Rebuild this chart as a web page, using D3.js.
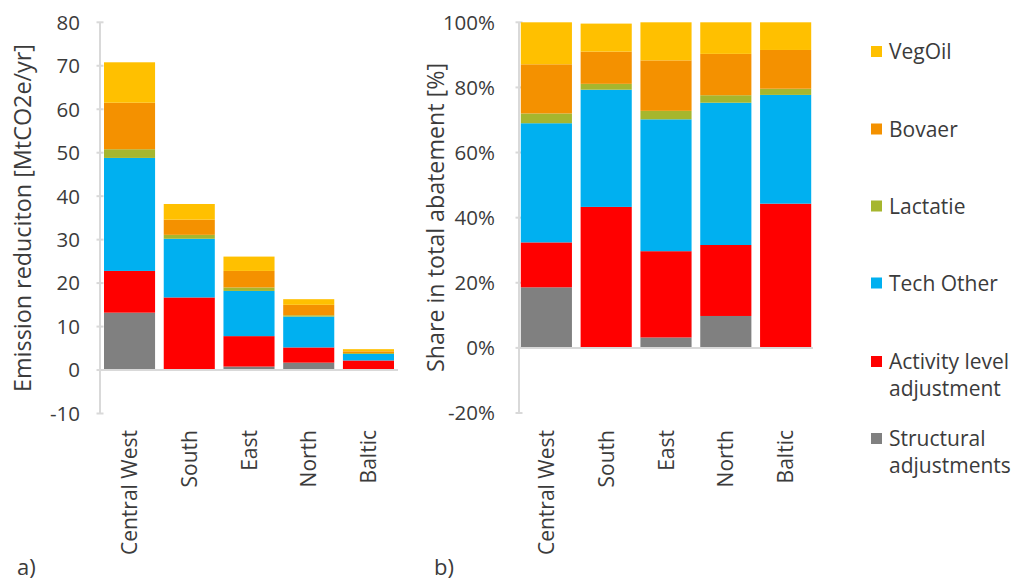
<!DOCTYPE html>
<html>
<head>
<meta charset="utf-8">
<script src="https://cdn.jsdelivr.net/npm/d3@7"></script>
<style>
  html, body { margin: 0; padding: 0; background: #fff; }
  svg { display: block; }
  text { font-family: "Open Sans", sans-serif; fill: #3b3b3b; }
</style>
</head>
<body>
<svg id="chart" width="1015" height="583"></svg>
<script>
// ---- Data ----
const categories = ["Central West", "South", "East", "North", "Baltic"];
const seriesNames = ["Structural adjustments", "Activity level adjustment", "Tech Other", "Lactatie", "Bovaer", "VegOil"];
const seriesColors = ["#808080", "#FF0000", "#00B0F0", "#A6B62E", "#F49100", "#FFC000"];

// Panel a) emission reduction, MtCO2e/yr
const structuralAbs = [13.2, 0.0, 0.8, 1.7, 0.0];
const activityAbs   = [9.6, 16.7, 7.0, 3.5, 2.2];
const techOtherAbs  = [26.0, 13.5, 10.4, 7.1, 1.5];
const lactatieAbs   = [2.0, 0.9, 0.8, 0.3, 0.2];
const bovaerAbs     = [10.7, 3.5, 3.8, 2.4, 0.4];
const vegOilAbs     = [9.3, 3.6, 3.3, 1.3, 0.5];

// Panel b) share in total abatement, %
const structuralPct = [18.6, 0.0, 3.2, 9.8, 0.0];
const activityPct   = [13.8, 43.3, 26.5, 21.8, 44.3];
const techOtherPct  = [36.6, 36.0, 40.5, 43.7, 33.4];
const lactatiePct   = [3.0, 1.8, 2.6, 2.3, 1.9];
const bovaerPct     = [15.1, 9.9, 15.5, 12.7, 11.9];
const vegOilPct     = [12.9, 8.6, 11.7, 9.7, 8.5];

const leftTicks  = [-10, 0, 10, 20, 30, 40, 50, 60, 70, 80];
const rightTicks = [-20, 0, 20, 40, 60, 80, 100];

const legendLabels = [
  ["VegOil"], ["Bovaer"], ["Lactatie"], ["Tech Other"],
  ["Activity level", "adjustment"], ["Structural", "adjustments"]
];
const legendColors = ["#FFC000", "#F49100", "#A6B62E", "#00B0F0", "#FF0000", "#808080"];

// ---- Drawing ----
const svg = d3.select("#chart");
const axisColor = "#d9d9d9";

function buildStack(arrays) {
  const rows = categories.map((c, i) => {
    const r = { cat: c };
    seriesNames.forEach((s, k) => { r[s] = arrays[k][i]; });
    return r;
  });
  return d3.stack().keys(seriesNames)(rows);
}

function panel(opts) {
  const g = svg.append("g");
  const x = d3.scaleBand().domain(categories).range(opts.xRange)
    .paddingInner(0.145).paddingOuter(opts.padOuter);
  const y = d3.scaleLinear().domain(opts.yDomain).range(opts.yRange);

  // axes lines
  const axisX = opts.xRange[0];
  g.append("line").attr("x1", axisX).attr("x2", axisX)
    .attr("y1", y(opts.yDomain[0])).attr("y2", y(opts.yDomain[1]))
    .attr("stroke", axisColor).attr("stroke-width", 2);
  g.selectAll(".tick").data(opts.ticks).enter().append("line")
    .attr("x1", axisX - 3.5).attr("x2", axisX + 3.5)
    .attr("y1", d => y(d)).attr("y2", d => y(d))
    .attr("stroke", axisColor).attr("stroke-width", 2);
  g.selectAll(".tl").data(opts.ticks).enter().append("text")
    .attr("x", opts.tickLabelX).attr("y", d => y(d))
    .attr("dy", "0.36em").attr("text-anchor", "end")
    .style("font-size", "20.5px")
    .text(opts.fmt);

  // bars
  const stack = buildStack(opts.data);
  g.selectAll(".layer").data(stack).enter().append("g")
    .attr("fill", (d, i) => seriesColors[i])
    .selectAll("rect").data(d => d).enter().append("rect")
    .attr("x", d => x(d.data.cat))
    .attr("width", x.bandwidth())
    .attr("y", d => y(d[1]))
    .attr("height", d => Math.max(0, y(d[0]) - y(d[1])));

  // zero line
  g.append("line").attr("x1", axisX).attr("x2", opts.xRange[1])
    .attr("y1", y(0)).attr("y2", y(0))
    .attr("stroke", axisColor).attr("stroke-width", 2);

  // category labels
  g.selectAll(".cl").data(categories).enter().append("text")
    .attr("transform", d => `translate(${x(d) + x.bandwidth() / 2},430) rotate(-90)`)
    .attr("text-anchor", "end").attr("dy", "0.36em")
    .style("font-size", "21px")
    .text(d => d);

  // y label
  g.append("text")
    .attr("transform", `translate(${opts.yLabelX},${opts.yLabelY}) rotate(-90)`)
    .attr("text-anchor", "middle").attr("dy", "0.36em")
    .attr("textLength", opts.yLabelLen).attr("lengthAdjust", "spacingAndGlyphs")
    .style("font-size", "23.5px")
    .text(opts.yLabel);

  // panel letter
  g.append("text").attr("x", opts.letterX).attr("y", 575)
    .style("font-size", "22px").text(opts.letter);
}

panel({
  xRange: [100, 398], padOuter: 0.067,
  yDomain: [-10, 80], yRange: [413.5, 22.3],
  ticks: leftTicks, tickLabelX: 80, fmt: d => d,
  data: [structuralAbs, activityAbs, techOtherAbs, lactatieAbs, bovaerAbs, vegOilAbs],
  yLabel: "Emission reduciton [MtCO2e/yr]", yLabelX: 23, yLabelY: 218, yLabelLen: 348,
  letter: "a)", letterX: 17
});

panel({
  xRange: [519, 813], padOuter: 0.03,
  yDomain: [-20, 100], yRange: [413, 22.3],
  ticks: rightTicks, tickLabelX: 495, fmt: d => d + "%",
  data: [structuralPct, activityPct, techOtherPct, lactatiePct, bovaerPct, vegOilPct],
  yLabel: "Share in total abatement [%]", yLabelX: 436, yLabelY: 217.5, yLabelLen: 309,
  letter: "b)", letterX: 434
});

// legend
const legendY = [51.5, 129, 206, 283, 361.5, 438.5];
const lg = svg.append("g");
legendLabels.forEach((lines, i) => {
  lg.append("rect").attr("x", 871).attr("y", legendY[i] - 5.5)
    .attr("width", 11).attr("height", 11).attr("fill", legendColors[i]);
  lines.forEach((t, j) => {
    lg.append("text").attr("x", 889).attr("y", legendY[i] + j * 26.5)
      .attr("dy", "0.36em").style("font-size", "21px").text(t);
  });
});
</script>
</body>
</html>
